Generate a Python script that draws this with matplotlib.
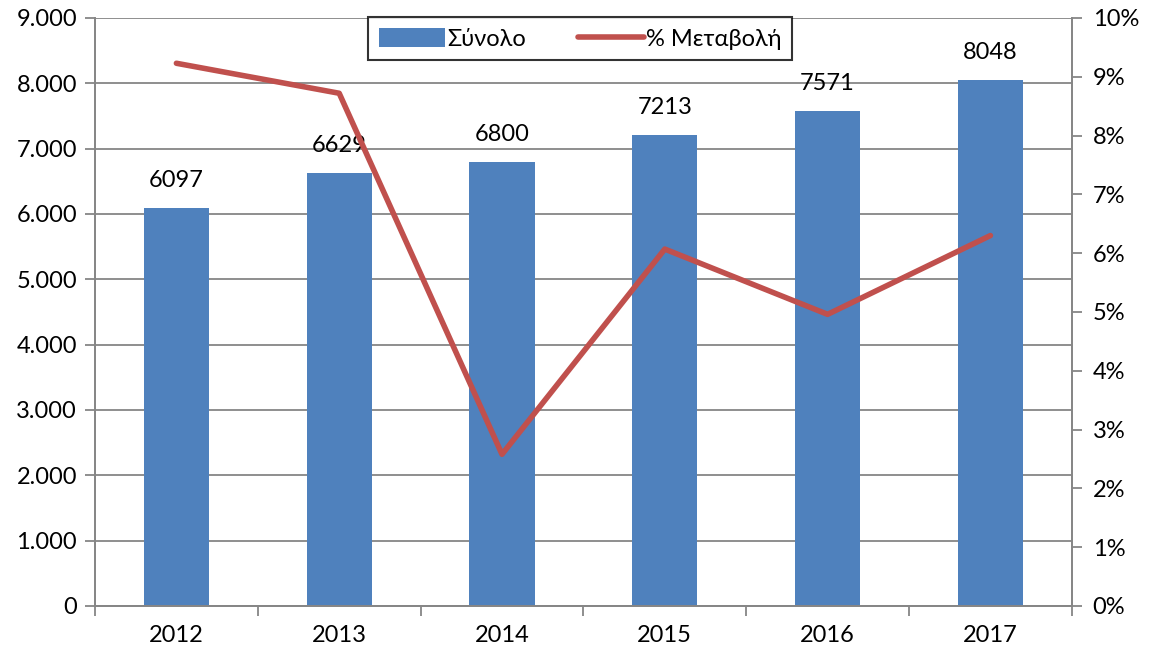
import matplotlib.pyplot as plt
from matplotlib.ticker import FuncFormatter, MultipleLocator

plt.rcParams['font.family'] = ['Lato', 'DejaVu Sans']

years = ['2012', '2013', '2014', '2015', '2016', '2017']
totals = [6097, 6629, 6800, 7213, 7571, 8048]
pct_change = [9.23, 8.72, 2.58, 6.07, 4.96, 6.30]

bar_color = '#4F81BD'
line_color = '#C0504D'
axis_gray = '#868686'
fs = 17

fig = plt.figure(figsize=(11.5, 6.54), dpi=100)
ax = fig.add_axes([0.0826, 0.0734, 0.8494, 0.8991])
ax2 = ax.twinx()

x = list(range(len(years)))
bars = ax.bar(x, totals, width=0.4, color=bar_color, zorder=2)
for xi, v in zip(x, totals):
    ax.text(xi, v + 260, str(v), ha='center', va='bottom', fontsize=fs)

ln, = ax2.plot(x, pct_change, color=line_color, lw=4,
               solid_capstyle='round', solid_joinstyle='round')

ax.set_xlim(-0.5, len(years) - 0.5)
ax.set_ylim(0, 9000)
ax2.set_ylim(0, 10)

ax.yaxis.set_major_locator(MultipleLocator(1000))
ax.yaxis.set_major_formatter(FuncFormatter(lambda v, p: f'{int(v):,}'.replace(',', '.')))
ax2.yaxis.set_major_locator(MultipleLocator(1))
ax2.yaxis.set_major_formatter(FuncFormatter(lambda v, p: f'{int(round(v))}%'))

ax.set_xticks(x)
ax.set_xticklabels(years)
ax.set_xticks([i - 0.5 for i in range(len(years) + 1)], minor=True)
ax.tick_params(axis='x', which='major', length=0, pad=14, labelsize=fs)
ax.tick_params(axis='x', which='minor', length=7, color=axis_gray, width=1.3)
ax.tick_params(axis='y', length=7, color=axis_gray, width=1.3, labelsize=fs, pad=6)
ax2.tick_params(axis='y', length=7, color=axis_gray, width=1.3, labelsize=fs, pad=8)

ax.grid(axis='y', color=axis_gray, lw=1.3, zorder=0)
ax.set_axisbelow(True)

for a in (ax, ax2):
    a.spines['top'].set_visible(False)
    for s in ('left', 'right', 'bottom'):
        a.spines[s].set_color(axis_gray)
        a.spines[s].set_linewidth(1.3)

leg = fig.legend([bars, ln], ['Σύνολο', '% Μεταβολή'], loc='upper left',
                 bbox_to_anchor=(368 / 1150, 1 - 17 / 654), borderaxespad=0,
                 ncol=2, fontsize=fs,
                 frameon=True, fancybox=False, edgecolor='black',
                 handlelength=2.8, handleheight=0.9, columnspacing=2.2,
                 borderpad=0.45, handletextpad=0.1)
leg.get_frame().set_linewidth(1.5)
leg.legend_handles[0].set_x(leg.legend_handles[0].get_x())

fig.savefig('out.png', dpi=100)
